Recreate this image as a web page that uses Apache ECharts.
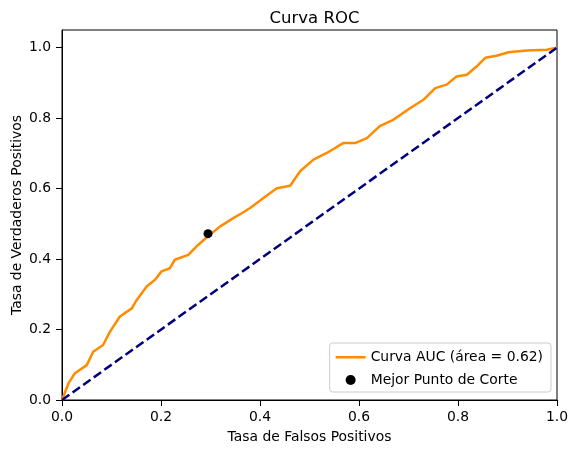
<!DOCTYPE html>
<html lang="es">
<head>
    <meta charset="UTF-8">
    <title>Curva ROC</title>
    <script src="https://cdn.jsdelivr.net/npm/echarts@6/dist/echarts.min.js"></script>
    <style>
        html, body { margin: 0; padding: 0; background: #fff; }
        #container { width: 578px; height: 453px; }
    </style>
</head>
<body>
<div id="container"></div>
<script>
    // datos
    var fpr = [0, 0.013, 0.026, 0.050, 0.063, 0.083, 0.097, 0.117, 0.141, 0.151, 0.171, 0.188, 0.201, 0.218, 0.228, 0.255, 0.275, 0.296, 0.319, 0.346, 0.363, 0.380, 0.407, 0.434, 0.461, 0.481, 0.508, 0.535, 0.568, 0.592, 0.616, 0.642, 0.669, 0.703, 0.730, 0.754, 0.777, 0.797, 0.818, 0.838, 0.855, 0.878, 0.902, 0.939, 0.979, 1.0];
    var tpr = [0, 0.047, 0.076, 0.099, 0.137, 0.156, 0.194, 0.237, 0.260, 0.284, 0.322, 0.341, 0.365, 0.374, 0.398, 0.412, 0.440, 0.466, 0.492, 0.516, 0.530, 0.545, 0.573, 0.601, 0.608, 0.649, 0.682, 0.701, 0.729, 0.729, 0.743, 0.777, 0.795, 0.828, 0.852, 0.885, 0.895, 0.918, 0.923, 0.947, 0.971, 0.977, 0.987, 0.992, 0.994, 1.0];
    var diagonal = [[0, 0], [1, 1]];
    var bestPoint = [0.295, 0.472];
    var ticks = [0, 0.2, 0.4, 0.6, 0.8, 1.0];
    var aucLabel = 'Curva AUC (área = 0.62)';
    var bestLabel = 'Mejor Punto de Corte';

    var myChart = echarts.init(document.getElementById('container'));
    var curve = [];
    for (var i = 0; i < fpr.length; i++) {
        curve.push([fpr[i], tpr[i]]);
    }
    var font = 'DejaVu Sans';
    var fmt = function (v) { return v.toFixed(1); };
    // icono de linea para la leyenda (puntos minimos en las esquinas para mantener la caja)
    var lineIcon = 'path://M0,0h0.05v0.05h-0.05Z M0,4h30v2.4h-30Z M29.95,9.95h0.05v0.05h-0.05Z';

    var option = {
        animation: false,
        textStyle: { fontFamily: font },
        title: {
            text: 'Curva ROC',
            left: 309.5,
            textAlign: 'center',
            top: 5,
            textStyle: { fontFamily: font, fontSize: 16.5, fontWeight: 'normal', color: '#000' }
        },
        grid: {
            show: true,
            left: 62, right: 21, top: 30, bottom: 53,
            outerBoundsMode: 'none',
            containLabel: false,
            borderColor: '#000', borderWidth: 1
        },
        legend: {
            orient: 'vertical',
            right: 27, bottom: 61,
            align: 'left',
            itemWidth: 30, itemHeight: 10, itemGap: 9,
            padding: [7, 8, 5, 6],
            borderColor: '#ccc', borderWidth: 1, borderRadius: 3,
            backgroundColor: 'rgba(255,255,255,0.8)',
            textStyle: { fontFamily: font, fontSize: 13.9, color: '#000' },
            data: [{ name: aucLabel, icon: lineIcon }, { name: bestLabel, icon: 'circle' }]
        },
        xAxis: {
            type: 'value', min: 0, max: 1, interval: 0.2,
            name: 'Tasa de Falsos Positivos',
            nameLocation: 'middle', nameGap: 30, nameMoveOverlap: false,
            nameTextStyle: { fontFamily: font, fontSize: 13.9, color: '#000' },
            axisLine: { show: true, lineStyle: { color: '#000' } },
            axisTick: { show: true, length: 6, lineStyle: { color: '#000' } },
            axisLabel: { formatter: fmt, fontSize: 13.9, color: '#000', margin: 10 },
            splitLine: { show: false }
        },
        yAxis: {
            type: 'value', min: 0, max: 1.05,
            name: 'Tasa de Verdaderos Positivos',
            nameLocation: 'middle', nameGap: 38, nameMoveOverlap: false,
            nameTextStyle: { fontFamily: font, fontSize: 13.9, color: '#000' },
            axisLine: { show: true, lineStyle: { color: '#000' } },
            axisTick: { show: true, length: 6, lineStyle: { color: '#000' }, customValues: ticks },
            axisLabel: { formatter: fmt, fontSize: 13.9, color: '#000', margin: 11, customValues: ticks },
            splitLine: { show: false }
        },
        series: [
            {
                name: aucLabel,
                type: 'line',
                data: curve,
                symbol: 'none',
                color: '#ff8c00',
                lineStyle: { color: '#ff8c00', width: 2.5 },
                z: 2
            },
            {
                name: 'diagonal',
                type: 'line',
                data: diagonal,
                symbol: 'none',
                lineStyle: { color: '#000080', width: 2.5, type: [9, 4] },
                z: 3
            },
            {
                name: bestLabel,
                type: 'scatter',
                data: [bestPoint],
                symbolSize: 9,
                itemStyle: { color: '#000', opacity: 1 },
                z: 4
            }
        ]
    };
    myChart.setOption(option);

    window.onresize = function () {
        myChart.resize();
    };
</script>
</body>
</html>
